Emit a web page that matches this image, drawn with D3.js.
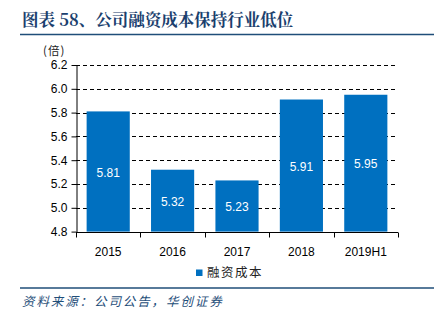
<!DOCTYPE html>
<html><head><meta charset="utf-8">
<script src="https://cdn.jsdelivr.net/npm/d3@7"></script>
<style>body{margin:0;background:#fff;} svg{display:block;}</style>
</head><body>
<script>
const categories = ["2015","2016","2017","2018","2019H1"];
const values = [5.81, 5.32, 5.23, 5.91, 5.95];
const yTicks = [4.8, 5.0, 5.2, 5.4, 5.6, 5.8, 6.0, 6.2];
const seriesName = "融资成本";
const title = "图表 58、公司融资成本保持行业低位";
const unitLabel = "(倍)";
const source = "资料来源：公司公告，华创证券";

const W = 439, H = 321;
const svg = d3.select("body").append("svg").attr("width", W).attr("height", H);
const cjk = "'Noto Sans CJK SC', sans-serif";
const num = "'Liberation Sans', Arial, sans-serif";

svg.append("text").attr("x", 22).attr("y", 26).text(title)
  .attr("font-family", "'Noto Serif CJK SC', 'Noto Sans CJK SC', serif").attr("font-weight", "bold")
  .attr("font-size", 16.5).attr("fill", "#1B3F6E");
svg.append("line").attr("x1", 20).attr("x2", 434).attr("y1", 34.5).attr("y2", 34.5)
  .attr("stroke", "#1F4E79").attr("stroke-width", 1.5);

svg.append("text").attr("x", 43).attr("y", 55).text(unitLabel)
  .attr("font-family", cjk).attr("font-size", 11.5).attr("letter-spacing", 1).attr("fill", "#222");

const x = d3.scaleBand().domain(categories).range([76, 398]).paddingInner(0.33).paddingOuter(0.165);
const y = d3.scaleLinear().domain([4.8, 6.2]).range([231.6, 65]);

// gridlines
svg.append("g").selectAll("line").data(yTicks.filter(t => t > 4.8)).join("line")
  .attr("x1", 76).attr("x2", 398)
  .attr("y1", d => Math.round(y(d)) + 0.5).attr("y2", d => Math.round(y(d)) + 0.5)
  .attr("stroke", "#000").attr("stroke-width", 1).attr("stroke-dasharray", "4,3");

// bars
svg.append("g").selectAll("rect").data(values).join("rect")
  .attr("x", (d, i) => x(categories[i])).attr("width", x.bandwidth())
  .attr("y", d => y(d)).attr("height", d => y(4.8) - y(d))
  .attr("fill", "#0070C0");

svg.append("g").selectAll("text").data(values).join("text")
  .attr("x", (d, i) => x(categories[i]) + x.bandwidth() / 2)
  .attr("y", d => (y(d) + y(4.8)) / 2 + 5)
  .attr("text-anchor", "middle").attr("fill", "#fff")
  .attr("font-family", num).attr("font-size", 12)
  .text(d => d.toFixed(2));

// y axis
const yAxis = svg.append("g").attr("transform", "translate(76.5,0)")
  .call(d3.axisLeft(y).tickValues(yTicks).tickFormat(d3.format(".1f")).tickSize(5).tickSizeOuter(0));
yAxis.selectAll("text").attr("font-family", num).attr("font-size", 12).attr("fill", "#000").attr("x", -9);
yAxis.selectAll("line,path").attr("stroke", "#000");

// x axis
const xb = svg.append("g").attr("transform", `translate(0,${Math.round(y(4.8)) + 0.5})`);
xb.append("line").attr("x1", 76).attr("x2", 398).attr("stroke", "#000");
const bounds = d3.range(categories.length + 1).map(i => 76 + i * (322 / categories.length));
xb.selectAll("line.t").data(bounds).join("line").attr("class", "t")
  .attr("x1", d => Math.round(d) + 0.5).attr("x2", d => Math.round(d) + 0.5)
  .attr("y1", 0).attr("y2", 5).attr("stroke", "#000");
xb.selectAll("text").data(categories).join("text")
  .attr("x", d => x(d) + x.bandwidth() / 2).attr("y", 23)
  .attr("text-anchor", "middle").attr("font-family", num).attr("font-size", 12).attr("fill", "#000")
  .text(d => d);

// legend
svg.append("rect").attr("x", 196).attr("y", 269.5).attr("width", 6.5).attr("height", 6.5).attr("fill", "#0070C0");
svg.append("text").attr("x", 207).attr("y", 277).text(seriesName)
  .attr("font-family", cjk).attr("font-size", 12.5).attr("letter-spacing", 1.5).attr("fill", "#222");

// footer
svg.append("line").attr("x1", 20).attr("x2", 434).attr("y1", 288).attr("y2", 288)
  .attr("stroke", "#1F4E79").attr("stroke-width", 1.5);
svg.append("text").attr("x", 22).attr("y", 306).text(source)
  .attr("font-family", cjk).attr("font-size", 12.5).attr("letter-spacing", 1.9)
  .attr("font-style", "italic").attr("fill", "#1F4E79");
</script>
</body></html>
